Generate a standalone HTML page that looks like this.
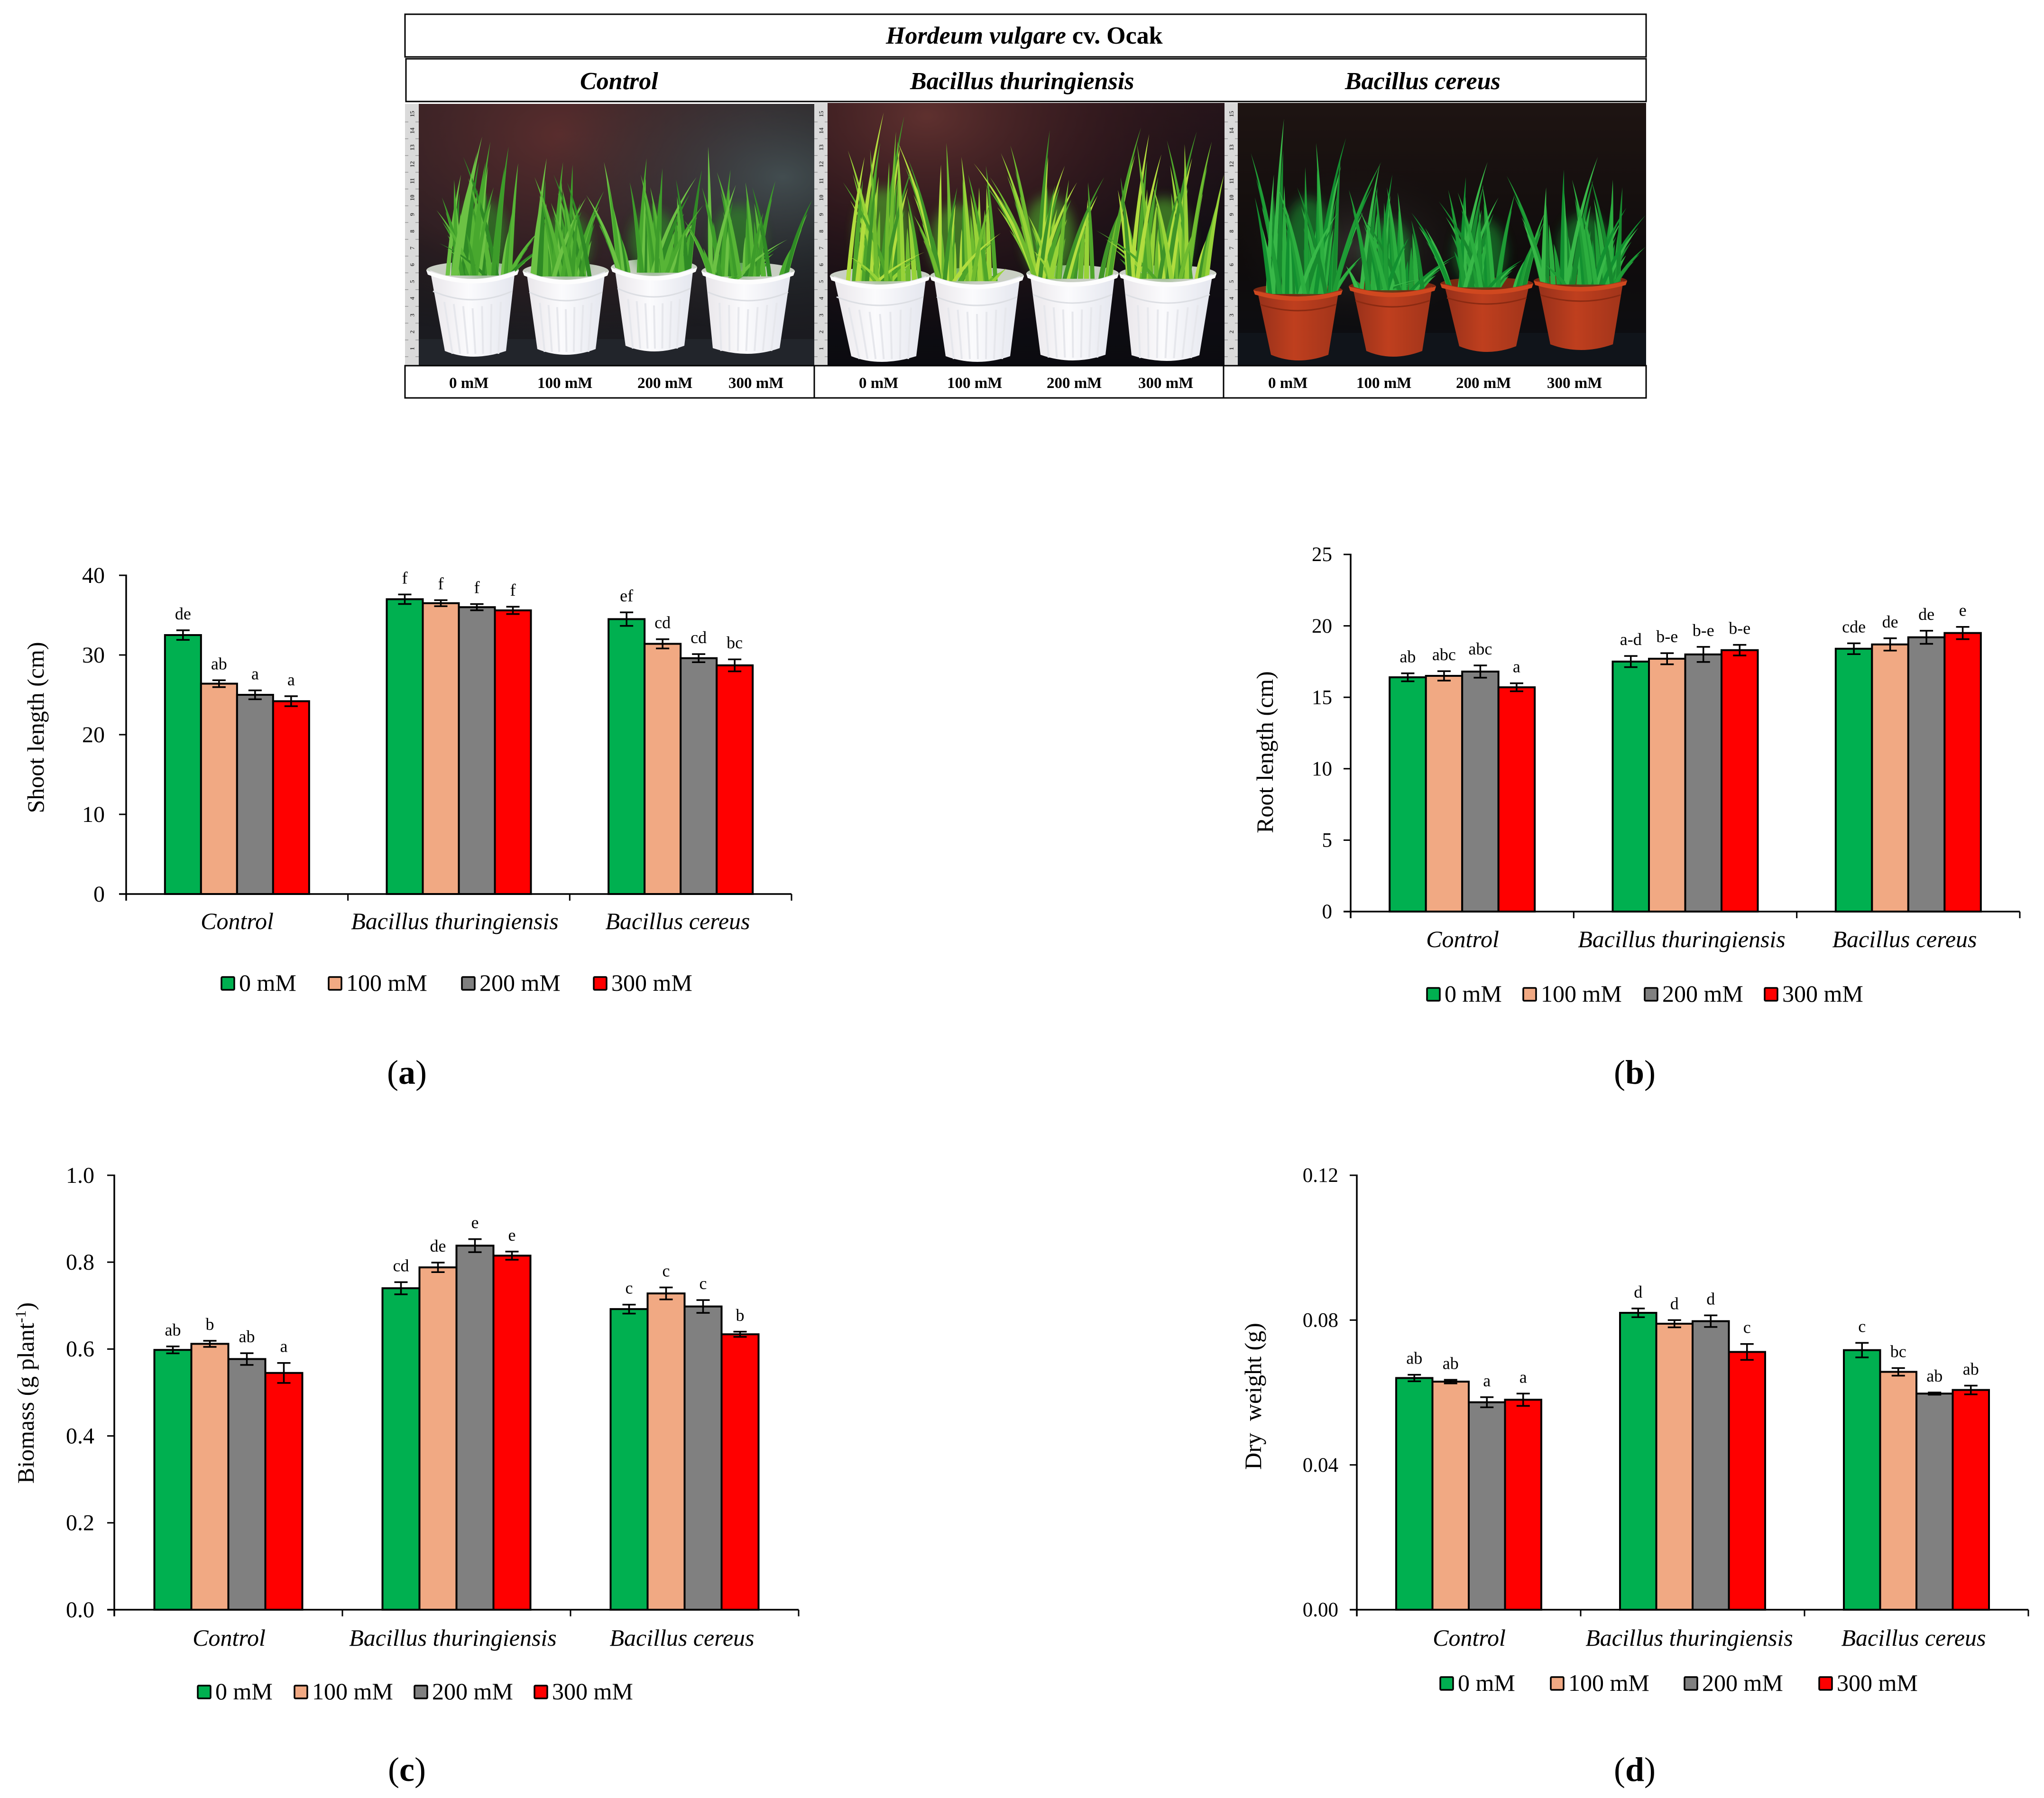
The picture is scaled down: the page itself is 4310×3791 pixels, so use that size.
<!DOCTYPE html>
<html lang="en">
<head>
<meta charset="utf-8">
<title>Hordeum vulgare cv. Ocak growth under salt stress</title>
<style>
html,body{margin:0;padding:0;background:#fff;}
svg{display:block;font-family:"Liberation Serif",serif;}
</style>
</head>
<body>
<svg id="figure" xmlns="http://www.w3.org/2000/svg" width="4310" height="3791" viewBox="0 0 4310 3791">
  <defs>
    <linearGradient id="bg1" x1="0" y1="0" x2="0" y2="1"><stop offset="0" stop-color="#2a1c1e"/><stop offset="0.55" stop-color="#18161a"/><stop offset="1" stop-color="#1c1d22"/></linearGradient>
    <radialGradient id="red1" cx="0.36" cy="0.12" r="0.8"><stop offset="0" stop-color="#5c2e2e" stop-opacity="0.95"/><stop offset="0.6" stop-color="#43262a" stop-opacity="0.55"/><stop offset="1" stop-color="#2a2020" stop-opacity="0"/></radialGradient>
    <radialGradient id="blue1" cx="0.92" cy="0.28" r="0.6"><stop offset="0" stop-color="#465558" stop-opacity="0.85"/><stop offset="1" stop-color="#2a3336" stop-opacity="0"/></radialGradient>
    <linearGradient id="bg2" x1="0" y1="0" x2="0" y2="1"><stop offset="0" stop-color="#24141a"/><stop offset="0.5" stop-color="#120e14"/><stop offset="1" stop-color="#0b0b10"/></linearGradient>
    <radialGradient id="red2" cx="0.25" cy="0.05" r="0.85"><stop offset="0" stop-color="#623230" stop-opacity="0.95"/><stop offset="0.55" stop-color="#3c1c20" stop-opacity="0.55"/><stop offset="1" stop-color="#2a1618" stop-opacity="0"/></radialGradient>
    <linearGradient id="bg3" x1="0" y1="0" x2="0" y2="1"><stop offset="0" stop-color="#1e1412"/><stop offset="0.6" stop-color="#0f0c0c"/><stop offset="1" stop-color="#0c0e13"/></linearGradient>
    <radialGradient id="grey3" cx="0.3" cy="0.55" r="0.3"><stop offset="0" stop-color="#3a3634" stop-opacity="0.8"/><stop offset="1" stop-color="#1a1616" stop-opacity="0"/></radialGradient>
    <linearGradient id="whitePot" x1="0" y1="0" x2="1" y2="0"><stop offset="0" stop-color="#e9e6ea"/><stop offset="0.45" stop-color="#fbfbfd"/><stop offset="1" stop-color="#e4e6ee"/></linearGradient>
    <linearGradient id="clayPot" x1="0" y1="0" x2="1" y2="0"><stop offset="0" stop-color="#96301a"/><stop offset="0.45" stop-color="#bf3f1e"/><stop offset="1" stop-color="#a1341a"/></linearGradient>
    <filter id="soft" x="-40%" y="-40%" width="180%" height="180%"><feGaussianBlur stdDeviation="12"/></filter>
  </defs>

  <rect x="0" y="0" width="4310" height="3791" fill="#ffffff"/>

  <g id="photo-panel">
    <rect x="883" y="219" width="834" height="552" fill="url(#bg1)"/>
    <rect x="883" y="219" width="834" height="552" fill="url(#red1)"/>
    <rect x="883" y="219" width="834" height="552" fill="url(#blue1)"/>
    <rect x="883" y="715" width="834" height="56" fill="#22252b"/>
    <rect x="1745" y="217" width="837" height="555" fill="url(#bg2)"/>
    <rect x="1745" y="217" width="837" height="555" fill="url(#red2)"/>
    <rect x="2610" y="217" width="861" height="555" fill="url(#bg3)"/>
    <rect x="2610" y="217" width="861" height="555" fill="url(#grey3)"/>
    <rect x="2610" y="702" width="861" height="70" fill="#10141a"/>
  </g>
  <g id="photo-rulers"></g>
  <g id="photo-plants"></g>

  <g>
    <rect x="854" y="30" width="2617" height="90" fill="#fff" stroke="#000" stroke-width="3"/>
    <rect x="856" y="124" width="2615" height="90" fill="#fff" stroke="#000" stroke-width="3"/>
    <rect x="854" y="771" width="2617" height="68" fill="#fff" stroke="#000" stroke-width="3"/>
    <line x1="1717" y1="771" x2="1717" y2="839" stroke="#000" stroke-width="3"/>
    <line x1="2580" y1="771" x2="2580" y2="839" stroke="#000" stroke-width="3"/>
    <text x="1868" y="92" font-size="52" font-weight="bold"><tspan font-style="italic">Hordeum vulgare</tspan> cv. Ocak</text>
    <text x="1223" y="188" font-size="52" font-weight="bold" font-style="italic">Control</text>
    <text x="1919" y="188" font-size="52" font-weight="bold" font-style="italic">Bacillus thuringiensis</text>
    <text x="2836" y="188" font-size="52" font-weight="bold" font-style="italic">Bacillus cereus</text>
    <g font-size="33" font-weight="bold">
      <text x="947" y="818">0 mM</text>
      <text x="1133" y="818">100 mM</text>
      <text x="1344" y="818">200 mM</text>
      <text x="1536" y="818">300 mM</text>
      <text x="1811" y="818">0 mM</text>
      <text x="1997" y="818">100 mM</text>
      <text x="2207" y="818">200 mM</text>
      <text x="2400" y="818">300 mM</text>
      <text x="2674" y="818">0 mM</text>
      <text x="2860" y="818">100 mM</text>
      <text x="3070" y="818">200 mM</text>
      <text x="3262" y="818">300 mM</text>
    </g>
  </g>

  <g id="charts"></g>

  <g font-size="72" text-anchor="middle">
    <text x="858" y="2285">(<tspan font-weight="bold">a</tspan>)</text>
    <text x="3447" y="2285">(<tspan font-weight="bold">b</tspan>)</text>
    <text x="858" y="3755">(<tspan font-weight="bold">c</tspan>)</text>
    <text x="3447" y="3755">(<tspan font-weight="bold">d</tspan>)</text>
  </g>
</svg>

<script>
// ---- shared chart data ----
const categories = ['Control', 'Bacillus thuringiensis', 'Bacillus cereus'];
const doses = ['0 mM', '100 mM', '200 mM', '300 mM'];

// ---- shoot length (a) ----
const shootTicks = ['0', '10', '20', '30', '40'];
const shootValues = [[32.5, 26.4, 25.0, 24.2], [37.0, 36.5, 36.0, 35.6], [34.5, 31.4, 29.6, 28.7]];
const shootErrors = [[0.6, 0.43, 0.56, 0.63], [0.6, 0.38, 0.39, 0.46], [0.85, 0.58, 0.51, 0.75]];
const shootLetters = [['de', 'ab', 'a', 'a'], ['f', 'f', 'f', 'f'], ['ef', 'cd', 'cd', 'bc']];

// ---- root length (b) ----
const rootTicks = ['0', '5', '10', '15', '20', '25'];
const rootValues = [[16.4, 16.5, 16.8, 15.7], [17.5, 17.7, 18.0, 18.3], [18.4, 18.7, 19.2, 19.5]];
const rootErrors = [[0.28, 0.33, 0.43, 0.28], [0.39, 0.39, 0.53, 0.37], [0.38, 0.43, 0.46, 0.43]];
const rootLetters = [['ab', 'abc', 'abc', 'a'], ['a-d', 'b-e', 'b-e', 'b-e'], ['cde', 'de', 'de', 'e']];

// ---- biomass (c) ----
const biomassTicks = ['0.0', '0.2', '0.4', '0.6', '0.8', '1.0'];
const biomassValues = [[0.598, 0.612, 0.577, 0.545], [0.74, 0.788, 0.838, 0.815], [0.692, 0.728, 0.698, 0.634]];
const biomassErrors = [[0.008, 0.007, 0.0135, 0.023], [0.014, 0.011, 0.015, 0.0094], [0.0103, 0.0138, 0.0147, 0.006]];
const biomassLetters = [['ab', 'b', 'ab', 'a'], ['cd', 'de', 'e', 'e'], ['c', 'c', 'c', 'b']];

// ---- dry weight (d) ----
const dryTicks = ['0.00', '0.04', '0.08', '0.12'];
const dryValues = [[0.064, 0.063, 0.0573, 0.058], [0.082, 0.079, 0.0797, 0.0712], [0.0717, 0.0657, 0.0597, 0.0607]];
const dryErrors = [[0.0009, 0.0005, 0.0014, 0.0017], [0.0012, 0.001, 0.0016, 0.0022], [0.002, 0.00105, 0.0003, 0.0012]];
const dryLetters = [['ab', 'ab', 'a', 'a'], ['d', 'd', 'd', 'c'], ['c', 'bc', 'ab', 'ab']];

const NS = 'http://www.w3.org/2000/svg';
const doseColors = ['#00b050', '#f1a983', '#808080', '#ff0000'];

function mk(parent, tag, attrs, text) {
  const node = document.createElementNS(NS, tag);
  for (const k in attrs) node.setAttribute(k, attrs[k]);
  if (text !== undefined) node.textContent = text;
  parent.appendChild(node);
  return node;
}

function drawChart(cfg) {
  const root = document.getElementById('charts');
  const g = mk(root, 'g', {});
  
  
  const yMax = parseFloat(cfg.ticks[cfg.ticks.length - 1]);
  const yPos = v => cfg.y0 - (v / yMax) * (cfg.y0 - cfg.yTop);
  const groupW = (cfg.xEnd - cfg.axisX) / categories.length;
  const barX = (c, s) => cfg.axisX + (c + 0.5) * groupW + (s - 2) * cfg.barW;

  // bars
  cfg.values.forEach((row, c) => {
    row.forEach((v, s) => {
      let el = mk(g, 'rect', { x: barX(c, s), y: yPos(v), width: cfg.barW, height: cfg.y0 - yPos(v), fill: doseColors[s], stroke: '#000', 'stroke-width': 4 });
      
      
    });
  });

  // error bars and significance letters
  cfg.values.forEach((row, c) => {
    row.forEach((v, s) => {
      const e = cfg.errors[c][s];
      const cx = barX(c, s) + cfg.barW / 2;
      const top = yPos(v + e);
      const bot = yPos(v - e);
      let el = mk(g, 'path', { d: 'M' + (cx - 14) + ' ' + top + 'H' + (cx + 14) + 'M' + cx + ' ' + top + 'V' + bot + 'M' + (cx - 14) + ' ' + bot + 'H' + (cx + 14), fill: 'none', stroke: '#000', 'stroke-width': 3.5 });
      
      
      el = mk(g, 'text', { x: cx, y: top - 23, 'font-size': 36, 'text-anchor': 'middle' }, cfg.letters[c][s]);
      
      
    });
  });

  // axes
  let axis = mk(g, 'line', { x1: cfg.axisX, y1: cfg.yTop - 1.5, x2: cfg.axisX, y2: cfg.y0 + 14, stroke: '#000', 'stroke-width': 3.5 });
  
  
  axis = mk(g, 'line', { x1: cfg.axisX - 15, y1: cfg.y0, x2: cfg.xEnd, y2: cfg.y0, stroke: '#000', 'stroke-width': 3.5 });
  
  

  // y ticks
  cfg.ticks.forEach(label => {
    const ty = yPos(parseFloat(label));
    let el = mk(g, 'line', { x1: cfg.axisX - 15, y1: ty, x2: cfg.axisX, y2: ty, stroke: '#000', 'stroke-width': 3 });
    
    
    el = mk(g, 'text', { x: cfg.axisX + cfg.tickDx, y: ty + cfg.tickSize * 0.33, 'font-size': cfg.tickSize, 'text-anchor': 'end' }, label);
    
    
  });

  // x ticks and category labels
  for (let i = 1; i <= categories.length; i++) {
    const tx = cfg.axisX + i * groupW;
    const el = mk(g, 'line', { x1: tx, y1: cfg.y0, x2: tx, y2: cfg.y0 + 14, stroke: '#000', 'stroke-width': 3 });
    
    
  }
  categories.forEach((name, i) => {
    const el = mk(g, 'text', { x: cfg.labelX[i], y: cfg.labelY, 'font-size': 50, 'font-style': 'italic', 'text-anchor': 'middle' }, name);
    
    
  });

  // y title
  const title = mk(g, 'text', { transform: 'translate(' + cfg.titleX + ' ' + cfg.titleY + ') rotate(-90)', 'font-size': 50, 'text-anchor': 'middle', style: 'white-space:pre' }, cfg.title);
  
  
  if (cfg.titleSup) {
    const sup = mk(title, 'tspan', { dy: -17, 'font-size': 32 }, cfg.titleSup);
    
    
    const end = mk(title, 'tspan', { dy: 17 }, ')');
    
    
  }

  // legend
  doses.forEach((d, s) => {
    let el = mk(g, 'rect', { x: cfg.legendX[s], y: cfg.legendY, width: 27, height: 27, rx: 2, fill: doseColors[s], stroke: '#000', 'stroke-width': 3.5 });
    
    
    el = mk(g, 'text', { x: cfg.legendX[s] + 37, y: cfg.legendY + 29, 'font-size': 50 }, d);
    
    
  });
}

drawChart({ name: 'shoot-length-chart', ticks: shootTicks, values: shootValues, errors: shootErrors, letters: shootLetters,
  axisX: 266, xEnd: 1669, y0: 1885, yTop: 1213, barW: 76, tickDx: -45, tickSize: 48,
  labelX: [500, 959, 1429], labelY: 1959, title: 'Shoot length (cm)', titleX: 92, titleY: 1534,
  legendX: [467, 693, 974, 1252], legendY: 2060 });
drawChart({ name: 'root-length-chart', ticks: rootTicks, values: rootValues, errors: rootErrors, letters: rootLetters,
  axisX: 2848, xEnd: 4259, y0: 1922, yTop: 1169, barW: 76.5, tickDx: -39, tickSize: 43,
  labelX: [3084, 3546, 4016], labelY: 1997, title: 'Root length (cm)', titleX: 2684, titleY: 1586,
  legendX: [3009, 3212, 3468, 3721], legendY: 2083 });
drawChart({ name: 'biomass-chart', ticks: biomassTicks, values: biomassValues, errors: biomassErrors, letters: biomassLetters,
  axisX: 241, xEnd: 1684, y0: 3394, yTop: 2478, barW: 78, tickDx: -42, tickSize: 48,
  labelX: [483, 955, 1438], labelY: 3470, title: 'Biomass (g plant', titleSup: '-1', titleX: 71, titleY: 2937,
  legendX: [417, 621, 874, 1127], legendY: 3554 });
drawChart({ name: 'dry-weight-chart', ticks: dryTicks, values: dryValues, errors: dryErrors, letters: dryLetters,
  axisX: 2861, xEnd: 4277, y0: 3394, yTop: 2478, barW: 76.5, tickDx: -39, tickSize: 43,
  labelX: [3098, 3562, 4035], labelY: 3470, title: 'Dry  weight (g)', titleX: 2659, titleY: 2944,
  legendX: [3037, 3270, 3552, 3836], legendY: 3536 });

// ---- photo illustration ----
const rulerMarks = [1, 2, 3, 4, 5, 6, 7, 8, 9, 10, 11, 12, 13, 14, 15];
const rulerStrips = [[854, 219, 29, 551], [1717, 217, 28, 555], [2582, 217, 28, 555]];

(function drawRulers() {
  const root = document.getElementById('photo-rulers');
  rulerStrips.forEach(r => {
    let el = mk(root, 'rect', { x: r[0], y: r[1], width: r[2], height: r[3], fill: '#dadada' });
    
    
    rulerMarks.forEach(n => {
      const yy = 20 + (1335 - (n - 1) * 66) / 1.867;
      el = mk(root, 'line', { x1: r[0], y1: yy + 17, x2: r[0] + r[2], y2: yy + 17, stroke: '#9a9a9a', 'stroke-width': 1.5, 'stroke-dasharray': '7 15' });
      
      
      el = mk(root, 'text', { transform: 'translate(' + (r[0] + r[2] / 2 + 5) + ' ' + yy + ') rotate(-90)', 'font-size': 13, 'font-weight': 'bold', fill: '#444', 'text-anchor': 'middle' }, String(n));
      
      
    });
  });
})();

const potsControl = [[899, 1094, 570, 754, 938, 1067], [1102, 1284, 572, 750, 1133, 1256], [1288, 1470, 564, 743, 1319, 1443], [1479, 1676, 572, 748, 1503, 1644]];
const potsThuringiensis = [[1750, 1961, 582, 765, 1795, 1932], [1961, 2159, 582, 765, 1994, 2130], [2164, 2359, 577, 762, 2194, 2331], [2360, 2565, 577, 763, 2386, 2529]];
const potsCereus = [[2643, 2831, 612, 762, 2680, 2801], [2844, 3028, 604, 754, 2881, 2999], [3037, 3233, 598, 744, 3077, 3197], [3234, 3431, 592, 740, 3269, 3401]];

const leavesControl = [
  [[308,500],[338,520],[405,540],[440,605],[238,580],[230,650],[205,670],[160,740],[140,790],[150,920],[290,560],[320,600],[390,620],[520,870],[550,925],[270,650],[350,700],[250,880]],
  [[545,585],[605,600],[640,610],[500,660],[570,650],[690,740],[755,715],[725,800],[600,700],[620,680],[530,720],[670,760],[660,800],[560,760]],
  [[755,600],[912,585],[970,625],[890,650],[1115,630],[1095,660],[770,680],[850,680],[925,700],[1020,670],[690,730],[1120,770],[960,720],[1050,870]],
  [[1138,540],[1220,630],[1385,675],[1275,680],[1520,750],[1430,905],[1050,830],[1115,700],[1170,640],[1300,700],[1240,690],[1120,940],[1340,800],[1180,1090]]
];
const leavesThuringiensis = [
  [[250,405],[325,420],[295,480],[118,555],[100,680],[180,580],[355,620],[200,550],[300,520],[335,730],[400,955],[225,640],[270,600],[120,970]],
  [[300,520],[340,590],[480,525],[535,580],[625,615],[460,610],[430,890],[360,810],[600,700],[560,650],[680,880],[520,700],[640,760],[700,1020]],
  [[580,605],[860,475],[715,535],[680,565],[1195,465],[915,615],[1060,660],[640,660],[780,810],[1000,680],[960,680],[880,690],[930,670],[800,950]],
  [[1225,490],[1400,480],[1455,520],[1500,650],[1290,515],[1110,710],[1120,660],[1180,530],[1355,530],[1030,870],[1270,570],[1340,700],[1400,850],[1240,700]]
];
const leavesCereus = [
  [[222,430],[450,505],[100,565],[340,525],[430,570],[185,650],[115,740],[300,620],[510,970],[270,700],[420,800],[240,800],[580,600],[200,700]],
  [[575,605],[620,650],[460,710],[600,700],[690,830],[450,1010],[860,965],[560,700],[640,720],[520,830],[730,1060],[680,900],[590,760],[500,790]],
  [[970,600],[890,660],[825,710],[950,690],[790,755],[740,860],[690,800],[1070,725],[1180,800],[1180,830],[1010,740],[1100,985],[940,780],[860,720]],
  [[1375,580],[1250,630],[1040,655],[1430,670],[1465,700],[1185,700],[1550,810],[1550,935],[1280,670],[1350,670],[1100,840],[1480,780],[1180,1005],[1320,800]]
];
const leafColorsControl = ['#3d9c2a', '#57b536', '#2f8a25', '#6cc244', '#48a82e'];
const leafColorsThuringiensis = ['#6fbb2f', '#97d338', '#4ea52a', '#b2dd3f', '#3f9428'];
const leafColorsCereus = ['#1f9c35', '#2cae3f', '#178a2e', '#38b848', '#129030'];

function drawLeaf(parent, bx, by, tx, ty, w, color) {
  const cx = bx + (tx - bx) * 0.4;
  const cy = by + (ty - by) * 0.6;
  const d = 'M' + (bx - w / 2) + ' ' + by + 'Q' + (cx - w / 2) + ' ' + cy + ' ' + tx + ' ' + ty + 'Q' + (cx + w / 2) + ' ' + cy + ' ' + (bx + w / 2) + ' ' + by + 'Z';
  const el = mk(parent, 'path', { d: d, fill: color });
  
  
}

function drawPlantRow(pots, leaves, colors, ox, clay) {
  const root = document.getElementById('photo-plants');
  pots.forEach((p, i) => {
    const xl = p[0], xr = p[1], yc = p[2], yb = p[3], bl = p[4], br = p[5];
    const cx = (xl + xr) / 2, rx = (xr - xl) / 2, ry = clay ? 13 : 18;
    const g = mk(root, 'g', {});
    
    

    let el = mk(g, 'ellipse', { cx: cx, cy: yc, rx: rx, ry: ry, fill: clay ? '#7a2812' : '#c9cfc4' });
    
    

    const baseL = cx - rx * 0.8, baseR = cx + rx * 0.8;
    const baseY = yc + ry * 0.6;
    const list = leaves[i];
    const toX = z => ox + z / 1.742;
    const toY = z => 20 + z / 1.867;
    const topY = Math.min(...list.map(t => toY(t[1])));
    const mid = list.reduce((s, t) => s + toX(t[0]), 0) / list.length;

    // soft foliage mass behind the leaves
    const massH = (baseY - topY) * 0.55;
    el = mk(g, 'ellipse', { cx: mid, cy: baseY - massH / 2, rx: rx * 0.55, ry: massH / 2, fill: colors[2], opacity: 0.65, filter: 'url(#soft)' });
    
    

    // dense lower foliage first, then full-length leaves on top
    [0.42, 0.62, 0.82, 1].forEach((f, pass) => {
      list.forEach((t, k) => {
        const tx = toX(t[0]), ty = toY(t[1]);
        let bx = mid + (tx - mid) * 0.5 + (k % 5 - 2) * rx * 0.13 * (pass + 1) / 2;
        bx = Math.max(baseL, Math.min(baseR, bx));
        drawLeaf(g, bx, baseY, bx + (tx - bx) * f, baseY + (ty - baseY) * f, pass === 3 ? 9 : 11, colors[(k + pass) % colors.length]);
      });
    });

    // pot body
    const bandY = yc + (clay ? 36 : 50);
    el = mk(g, 'path', { d: 'M' + (xl + 8) + ' ' + yc + 'L' + bl + ' ' + (yb - 14) + 'Q' + cx + ' ' + (yb + 10) + ' ' + br + ' ' + (yb - 14) + 'L' + (xr - 8) + ' ' + yc + 'Q' + cx + ' ' + (yc + 2 * ry) + ' ' + (xl + 8) + ' ' + yc + 'Z', fill: clay ? 'url(#clayPot)' : 'url(#whitePot)' });
    
    

    el = mk(g, 'path', { d: 'M' + (xl + 14) + ' ' + (bandY - 6) + 'Q' + cx + ' ' + (bandY + 2 * ry - 6) + ' ' + (xr - 14) + ' ' + (bandY - 6), fill: 'none', stroke: clay ? '#8a2a12' : '#dcdee3', 'stroke-width': 3 });
    
    

    if (!clay) {
      for (let f = 1; f < 8; f++) {
        const topX = xl + 18 + (xr - xl - 36) * f / 8;
        const botX = bl + (br - bl) * f / 8;
        el = mk(g, 'line', { x1: topX, y1: bandY + 12 + ry * (1 - Math.abs(f - 4) / 4), x2: botX, y2: yb - 8, stroke: '#e6e7ec', 'stroke-width': 4 });
        
        
      }
    }

    el = mk(g, 'path', { d: 'M' + xl + ' ' + yc + 'Q' + cx + ' ' + (yc + 2 * ry) + ' ' + xr + ' ' + yc + 'L' + (xr - 3) + ' ' + (yc + 9) + 'Q' + cx + ' ' + (yc + 2 * ry + 10) + ' ' + (xl + 3) + ' ' + (yc + 9) + 'Z', fill: clay ? '#d0481f' : '#fdfdfd' });
    
    
  });
}

drawPlantRow(potsControl, leavesControl, leafColorsControl, 840, false);
drawPlantRow(potsThuringiensis, leavesThuringiensis, leafColorsThuringiensis, 1720, false);
drawPlantRow(potsCereus, leavesCereus, leafColorsCereus, 2580, true);
</script>
</body>
</html>
